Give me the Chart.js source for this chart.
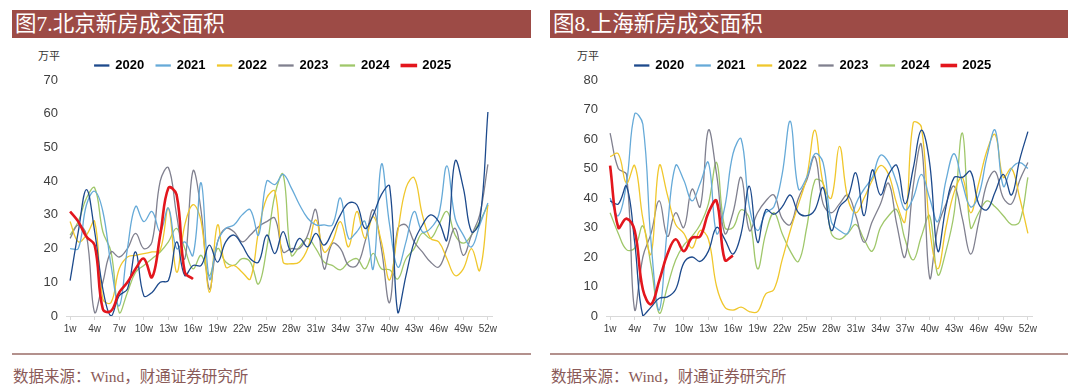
<!DOCTYPE html>
<html><head><meta charset="utf-8">
<script src="https://cdn.jsdelivr.net/npm/chart.js@4.4.1/dist/chart.umd.min.js"></script>
<style>
body{margin:0;width:1080px;height:392px;background:#fff;position:relative;overflow:hidden;font-family:"Liberation Sans",Arial,sans-serif}
.bar{position:absolute;top:10px;height:28px;background:#9d4b46;color:#fff;font-size:21.5px;font-family:"Liberation Serif","Noto Sans CJK SC",serif;line-height:28px;padding-left:3px;box-sizing:border-box;white-space:nowrap}
.unit{position:absolute;top:47px;font-size:11px;font-family:"Noto Sans CJK SC",sans-serif;color:#333}
.rule{position:absolute;top:353px;height:2px;background:#b3918d}
.src{position:absolute;top:364px;font-size:15.5px;font-family:"Liberation Serif","Noto Sans CJK SC",serif;color:#8a5a58;white-space:nowrap}
canvas{position:absolute;top:40px}
</style></head><body>
<div class="bar" style="left:12px;width:519px">图7.北京新房成交面积</div>
<div class="bar" style="left:550px;width:518px">图8.上海新房成交面积</div>
<div class="unit" style="left:38px">万平</div>
<div class="unit" style="left:577px">万平</div>
<canvas id="c1" width="540" height="305" style="left:0px"></canvas>
<canvas id="c2" width="540" height="305" style="left:540px"></canvas>
<div class="rule" style="left:12px;width:519px"></div>
<div class="rule" style="left:550px;width:518px"></div>
<div class="src" style="left:13px">数据来源：Wind，财通证券研究所</div>
<div class="src" style="left:551px">数据来源：Wind，财通证券研究所</div>
<script>
const weeks = ['1w','2w','3w','4w','5w','6w','7w','8w','9w','10w','11w','12w','13w','14w','15w','16w','17w','18w','19w','20w','21w','22w','23w','24w','25w','26w','27w','28w','29w','30w','31w','32w','33w','34w','35w','36w','37w','38w','39w','40w','41w','42w','43w','44w','45w','46w','47w','48w','49w','50w','51w','52w'];
const years = ['2020','2021','2022','2023','2024','2025'];

// 北京新房成交面积（万平）
const bj2020 = [10.5,25,37.5,25,8,0,6,8,19,6,7,10,10.5,22,12,15,15,21,16,22,24,21,17,16,24,18.5,25,19,23,20.5,24.5,21,25,30,33.5,33,26,30,36,38.5,1,12,22,27,30,28,22.5,46,38,25,28,60.5];
const bj2021 = [20,20,33,37,31,15,3,20,32.5,28,31,25,32,20,22,18,39.5,11,22,26,27,30,31.5,24,40,39,42,38,33,29,27,27,27,35,23,25,28,14,45,27,14.5,22,31,25,26,30,44.5,29,24,20.5,27,33.5];
const bj2022 = [28,22,24,28,5,4,14,17.5,18,18.5,19,19.5,32,13,27,33,28,7,27,14.5,15,13,11,25,35,37,16,15.5,16,20,28.5,19,22,28,20.5,31,23,29.5,22,10.7,25,38,41,30,23,22,17,12,14,20,13.5,33];
const bj2023 = [23,27,24,1,10,19,17.5,20,24.5,20,22,40,44,30,17,43,31,8,22,26,25,22,24,26.5,28,29,19,20,20,24,31.5,14,21.5,20,15,15,22,31.5,20,4,26,27,22,19,16,14.5,20,26,18,24,30,45];
const bj2024 = [24,28,35,38,25,19,1,7,13,15,17,19,22,26,20,14,18,12,20,16,15,17,16,9.5,20,36,42,18,20.5,23,20,16,15,13.7,16,17,14,18.6,14,13.7,11,17,20,24.6,23,27,31,24,21.6,24,28,33];
const bj2025 = [31,28,23.5,21,2,1.5,7,10,14,17,11.5,24,38,36,13,11];

// 上海新房成交面积（万平）
const sh2020 = [39,38,44,25,0,3,6,6.5,9,18,20,18.5,22,30,26,21,28,44,25,36,34.5,37,41,35,34,36,43.5,29,37,40,48.5,34,49.5,41,48,51,38,50,63,52,22,37,47,47,49,38,36,42,48,41,53,62.5];
const sh2021 = [40,34,45,68.5,65,25,2,30,51,46,39,45,52,28,37,55,60,37,29,35,37,48,66,43,47,55,52,32,29,28,38,43,47,54.5,52,45,36,40,48,40,32,46,55,45,37,41,54,63,44,50,52,50];
const sh2022 = [54,55,45,51,33,21,51,41,31,28,23,29,26,10,3,2,3,1.5,1.5,7.5,9,19,29,38,47,63,45,40,57.5,40,35,40,46,51,48,38,32,65.5,64,30,16,30,42,47,35,45,56,61.5,47,50,40,28];
const sh2023 = [62,50,48,2,20,28,39,27,35,30,43,37,63,48,28,35,47,29,35,39,41,33,31,40,46,54,38,35,38,41,34,25,32,38,45,31,20,44,58,13,30,38,44,33,21,32,45,49,40,38,46,52];
const sh2024 = [35,28,22.5,23,30.5,17,1,10,19,24,27,31,38,52,30,30,36,33,16,28,35,28,22,18.5,30,46,45,28,26,28,31,26,22,30,34,36,26,19,27,34,14,22,35,62,30,35,39,37,34,31,32,47];
const sh2025 = [51,30,33,29,9,4,12,21,26,22,26.5,27,35,39,19,20.5];

const yTicksBJ = [0,10,20,30,40,50,60,70];
const yTicksSH = [0,10,20,30,40,50,60,70,80];

const colors = ['#1d4a8c','#66aad8','#f0c72c','#80808f','#9fc76a','#e3161d'];
const widths = [1.3,1.3,1.3,1.3,1.3,2.6];

const shiftLegend = {
  id:'shiftLegend',
  afterLayout(chart){ if(chart.legend){ chart.legend.left += 27; chart.legend.right += 27; chart.legend.top += 2; chart.legend.bottom += 2; } }
};

function makeChart(id, series, yTicks){
  const datasets = series.map((d,i)=>({
    label: years[i], data: d,
    borderColor: colors[i], backgroundColor: colors[i],
    borderWidth: widths[i], pointRadius: 0, tension: 0.4,
    order: i===5 ? 0 : 1, fill:false
  }));
  return new Chart(document.getElementById(id), {
    type:'line',
    data:{labels: weeks, datasets},
    plugins:[shiftLegend],
    options:{
      responsive:false, animation:false, events:[],
      layout:{padding:{left:0,right:48,top:5,bottom:0}},
      plugins:{
        legend:{display:true, position:'top', align:'center',
          labels:{boxWidth:14, boxHeight:1, padding:12, color:'#000',
            sort:(a,b)=>a.datasetIndex-b.datasetIndex,
            font:{family:'"Liberation Sans", Arial', size:13, weight:'bold'}}},
        tooltip:{enabled:false}
      },
      scales:{
        x:{type:'category', offset:true,
          grid:{display:true, drawOnChartArea:false, drawTicks:true, tickLength:4,
            color:(c)=> (c.index%3===0 ? '#d9d9d9' : 'rgba(0,0,0,0)')},
          border:{display:true, color:'#d9d9d9', width:1},
          ticks:{autoSkip:false, maxRotation:0, minRotation:0, padding:3, color:'#404040',
            font:{family:'"Liberation Sans", Arial', size:10},
            callback:(v,i)=> i%3===0 ? weeks[i] : ''},
          afterFit:(s)=>{ s.height = 29; }
        },
        y:{min:yTicks[0], max:yTicks[yTicks.length-1],
          afterBuildTicks:(s)=>{ s.ticks = yTicks.map(v=>({value:v})); },
          grid:{display:false, drawTicks:false},
          border:{display:false},
          ticks:{padding:8, color:'#404040', font:{family:'"Liberation Sans", Arial', size:13}},
          afterFit:(s)=>{ s.width = 66; }
        }
      }
    }
  });
}
makeChart('c1', [bj2020,bj2021,bj2022,bj2023,bj2024,bj2025], yTicksBJ);
makeChart('c2', [sh2020,sh2021,sh2022,sh2023,sh2024,sh2025], yTicksSH);
</script>
</body></html>
